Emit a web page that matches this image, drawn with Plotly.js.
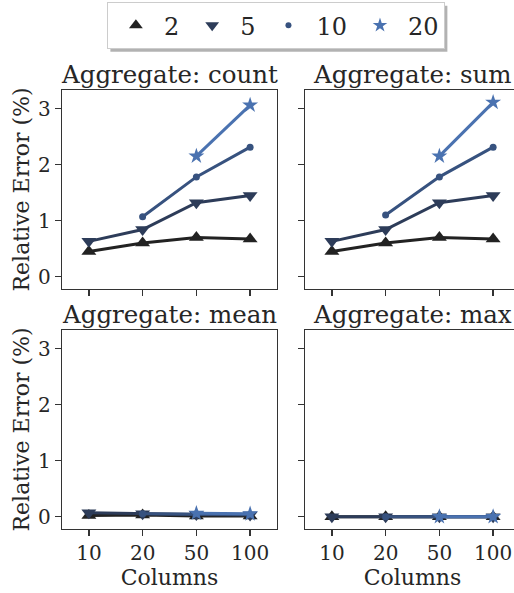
<!DOCTYPE html>
<html><head><meta charset="utf-8">
<script src="https://cdn.plot.ly/plotly-3.0.1.min.js"></script>
<style>html,body{margin:0;padding:0;overflow:hidden;background:#fff}</style>
</head><body><div id="chart"></div>
<script>
const columns = ['10', '20', '50', '100'];
const groups = ['2', '5', '10', '20'];
const aggregates = ['count', 'sum', 'mean', 'max'];

// Relative error (%) per aggregate, per group; null = not measured
const count_2  = [0.45, 0.60, 0.70, 0.67];
const count_5  = [0.63, 0.84, 1.32, 1.45];
const count_10 = [null, 1.07, 1.78, 2.31];
const count_20 = [null, null, 2.15, 3.06];

const sum_2  = [0.45, 0.60, 0.70, 0.67];
const sum_5  = [0.63, 0.84, 1.32, 1.45];
const sum_10 = [null, 1.10, 1.78, 2.31];
const sum_20 = [null, null, 2.15, 3.11];

const mean_2  = [0.02, 0.03, 0.01, 0.01];
const mean_5  = [0.07, 0.05, 0.04, 0.03];
const mean_10 = [null, 0.05, 0.05, 0.04];
const mean_20 = [null, null, 0.06, 0.05];

const max_2  = [0.00, 0.00, 0.00, 0.00];
const max_5  = [0.00, 0.00, 0.00, 0.00];
const max_10 = [null, 0.00, 0.00, 0.00];
const max_20 = [null, null, 0.00, 0.00];

const seriesByAgg = {
  count: [count_2, count_5, count_10, count_20],
  sum:   [sum_2, sum_5, sum_10, sum_20],
  mean:  [mean_2, mean_5, mean_10, mean_20],
  max:   [max_2, max_5, max_10, max_20]
};

const colors = ['#222222', '#2d3c59', '#37527f', '#4a72b0'];
const symbols = ['triangle-up', 'triangle-down', 'circle', 'star'];
const sizes = [13, 13, 7, 12];
const FONT = 'DejaVu Serif, serif';
const TXT = '#262626';
const AX = '#333333';

const traces = [];
aggregates.forEach((agg, ai) => {
  const xa = ai === 0 ? 'x' : 'x' + (ai + 1);
  const ya = ai === 0 ? 'y' : 'y' + (ai + 1);
  seriesByAgg[agg].forEach((vals, gi) => {
    traces.push({
      type: 'scatter', mode: 'lines+markers',
      x: columns, y: vals, xaxis: xa, yaxis: ya,
      line: {color: colors[gi], width: 3},
      marker: {symbol: symbols[gi], size: sizes[gi], color: colors[gi]},
      showlegend: false, connectgaps: false, hoverinfo: 'x+y'
    });
  });
});
groups.forEach((g, gi) => {
  traces.push({
    type: 'scatter', mode: 'markers', x: [null], y: [null],
    xaxis: 'x', yaxis: 'y', name: g, showlegend: true,
    marker: {symbol: symbols[gi], size: sizes[gi] - 1, color: colors[gi]}
  });
});

function xaxis(dom, anchor, labels) {
  return {
    type: 'category', domain: dom, anchor: anchor, range: [-0.5, 3.5], categoryorder: 'array', categoryarray: columns,
    showline: true, mirror: true, linecolor: AX, linewidth: 1.3,
    ticks: 'outside', ticklen: 6, tickwidth: 1.3, tickcolor: AX,
    showgrid: false, zeroline: false, showticklabels: labels,
    tickfont: {family: FONT, size: 20, color: TXT},
    title: labels ? {text: 'Columns', font: {family: FONT, size: 22, color: TXT}, standoff: 5} : {text: ''}
  };
}
function yaxis(dom, anchor, labels) {
  return {
    domain: dom, anchor: anchor, range: [-0.22, 3.33], tickvals: [0, 1, 2, 3],
    showline: true, mirror: true, linecolor: AX, linewidth: 1.3,
    ticks: 'outside', ticklen: 6, tickwidth: 1.3, tickcolor: AX,
    showgrid: false, zeroline: false, showticklabels: labels,
    tickfont: {family: FONT, size: 20, color: TXT},
    title: labels ? {text: 'Relative Error (%)', font: {family: FONT, size: 22, color: TXT}, standoff: 2} : {text: ''}
  };
}

const xl = [0, 0.4694], xr = [0.5306, 1];
const yt = [0.5467, 1], yb = [0, 0.4533];

const annotations = aggregates.map((agg, ai) => ({
  text: 'Aggregate: ' + agg, showarrow: false,
  xref: (ai === 0 ? 'x' : 'x' + (ai + 1)) + ' domain', x: 0.5, xanchor: 'center',
  yref: (ai === 0 ? 'y' : 'y' + (ai + 1)) + ' domain', y: 1, yanchor: 'bottom', yshift: -1,
  font: {family: FONT, size: 24.5, color: TXT}
}));

const layout = {
  width: 522, height: 593,
  margin: {l: 62, r: 2, t: 90, b: 64},
  paper_bgcolor: '#fff', plot_bgcolor: '#fff',
  font: {family: FONT, color: TXT},
  xaxis: xaxis(xl, 'y', false), yaxis: yaxis(yt, 'x', true),
  xaxis2: xaxis(xr, 'y2', false), yaxis2: yaxis(yt, 'x2', false),
  xaxis3: xaxis(xl, 'y3', true), yaxis3: yaxis(yb, 'x3', true),
  xaxis4: xaxis(xr, 'y4', true), yaxis4: yaxis(yb, 'x4', false),
  annotations: annotations,
  legend: {
    orientation: 'h', x: 0.467, xanchor: 'center', y: 1.2, yanchor: 'top',
    bgcolor: '#ffffff', bordercolor: '#cccccc', borderwidth: 1, itemwidth: 46,
    font: {family: FONT, size: 24, color: TXT}
  },
  showlegend: true
};

Plotly.newPlot('chart', traces, layout, {displayModeBar: false, staticPlot: true}).then(gd => {
  const bg = document.querySelector('.legend .bg');
  if (!bg) return;
  const r = bg.getBoundingClientRect();
  const fl = gd._fullLayout;
  const ox = fl.margin.l, oy = fl.margin.t, pw = fl._size.w, ph = fl._size.h;
  const toX = px => (px - ox) / pw;
  const toY = py => 1 - (py - oy) / ph;
  Plotly.relayout(gd, {shapes: [{
    type: 'rect', xref: 'paper', yref: 'paper', layer: 'above',
    x0: toX(r.left + 3), x1: toX(r.right + 3), y0: toY(r.bottom + 3), y1: toY(r.top + 3),
    fillcolor: 'rgba(0,0,0,0.3)', line: {width: 0}
  }]});
});
</script></body></html>
